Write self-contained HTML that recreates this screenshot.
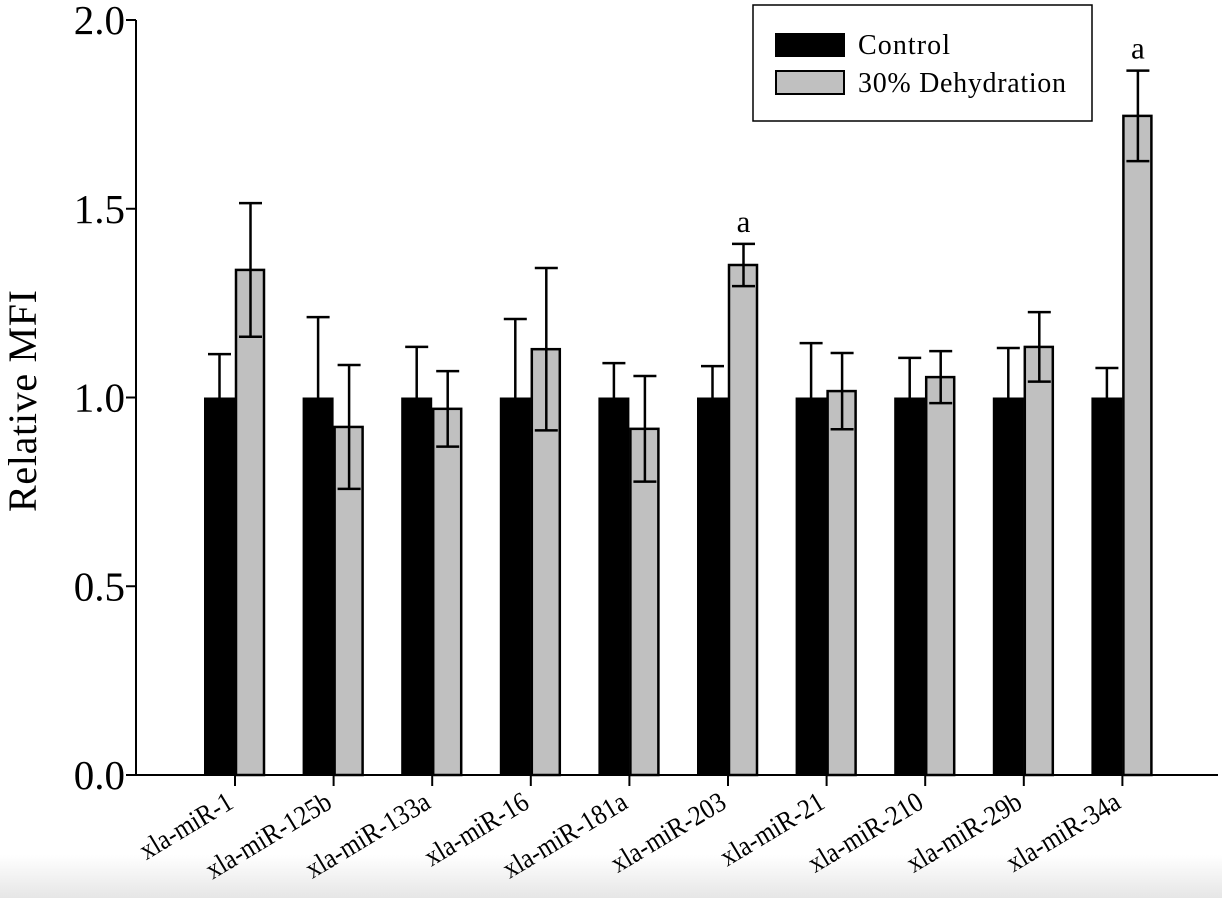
<!DOCTYPE html>
<html><head><meta charset="utf-8">
<style>
html,body{margin:0;padding:0;background:#fff;}
svg{display:block;font-family:"Liberation Serif",serif;}
</style></head>
<body>
<svg id="chart" width="1222" height="898" viewBox="0 0 1222 898">
<defs><linearGradient id="bg" x1="0" y1="0" x2="0" y2="1"><stop offset="0" stop-color="#fff"/><stop offset="1" stop-color="#e6e6e6"/></linearGradient></defs>
<rect x="0" y="855" width="1222" height="43" fill="url(#bg)"/>
<g id="plot"></g>
<g>
<rect x="753" y="5" width="339" height="116" fill="#fff" stroke="#000" stroke-width="1.5"/>
<rect x="775" y="33" width="70" height="24" fill="#000"/>
<text x="858" y="54" font-size="28" textLength="92">Control</text>
<rect x="776" y="71" width="68" height="23" fill="#c0c0c0" stroke="#000" stroke-width="2"/>
<text x="858" y="92" font-size="28" textLength="208">30% Dehydration</text>
</g>
<text transform="translate(36,401) rotate(-90)" text-anchor="middle" font-size="40" textLength="222">Relative MFI</text>
</svg>
<script>
const categories = ["xla-miR-1","xla-miR-125b","xla-miR-133a","xla-miR-16","xla-miR-181a","xla-miR-203","xla-miR-21","xla-miR-210","xla-miR-29b","xla-miR-34a"];
const controlValues = [1,1,1,1,1,1,1,1,1,1];
const controlErr = [0.115,0.213,0.134,0.208,0.091,0.083,0.144,0.105,0.131,0.078];
const dehydValues = [1.338,0.922,0.970,1.128,0.917,1.351,1.017,1.054,1.134,1.746];
const dehydErr = [0.177,0.164,0.100,0.215,0.140,0.056,0.101,0.069,0.092,0.120];
const signif = ["","","","","","a","","","","a"];
const yTicks = [0.0,0.5,1.0,1.5,2.0];
const yTickLabels = ["0.0","0.5","1.0","1.5","2.0"];

const NS="http://www.w3.org/2000/svg";
const g=document.getElementById('plot');
const x0=136, x1=1218, yBase=775, yTop=20, yMax=2.0;
const y=v=>yBase-(v/yMax)*(yBase-yTop);
const groupW=98.6, firstCenter=235;
const xc=i=>firstCenter+i*groupW;
const bw=31;
function mk(tag,attrs){const e=document.createElementNS(NS,tag);for(const k in attrs)e.setAttribute(k,attrs[k]);g.appendChild(e);return e;}

categories.forEach((c,i)=>{
  const cx=xc(i);
  let e=mk('rect',{x:cx-bw,y:y(controlValues[i]),width:bw,height:yBase-y(controlValues[i]),fill:'#000'});
  
  
  const ex=cx-bw/2;
  e=mk('path',{d:`M${ex},${y(controlValues[i])} V${y(controlValues[i]+controlErr[i])} M${ex-11.5},${y(controlValues[i]+controlErr[i])} H${ex+11.5}`,stroke:'#000','stroke-width':2.5,fill:'none'});
  
  
  e=mk('rect',{x:cx+1,y:y(dehydValues[i]),width:bw-3,height:yBase-y(dehydValues[i]),fill:'#c0c0c0',stroke:'#000','stroke-width':2.5});
  
  
  const gx=cx+bw/2;
  const hi=y(dehydValues[i]+dehydErr[i]), lo=y(dehydValues[i]-dehydErr[i]);
  e=mk('path',{d:`M${gx},${lo} V${hi} M${gx-11.5},${hi} H${gx+11.5} M${gx-11.5},${lo} H${gx+11.5}`,stroke:'#000','stroke-width':2.5,fill:'none'});
  
  
  if(signif[i]){
    e=mk('text',{x:gx,y:hi-12,'text-anchor':'middle','font-size':31});
    e.textContent=signif[i];
    
    
  }
  e=mk('line',{x1:cx,x2:cx,y1:yBase,y2:yBase+11,stroke:'#000','stroke-width':2});
  
  
  e=mk('text',{x:0,y:0,'text-anchor':'end','font-size':28,transform:`translate(${cx},${yBase+32}) rotate(-31) scale(0.9,1)`});
  e.textContent=c;
  
  
});
yTicks.forEach((t,i)=>{
  let e=mk('line',{x1:x0-10,x2:x0,y1:y(t),y2:y(t),stroke:'#000','stroke-width':2});
  
  
  e=mk('text',{x:x0-11,y:y(t)+14,'text-anchor':'end','font-size':41});
  e.textContent=yTickLabels[i];
  
  
});
let ax=mk('line',{x1:x0,x2:x0,y1:yTop,y2:yBase+1,stroke:'#000','stroke-width':2});


ax=mk('line',{x1:x0,x2:x1,y1:yBase,y2:yBase,stroke:'#000','stroke-width':2});


</script>
</body></html>
